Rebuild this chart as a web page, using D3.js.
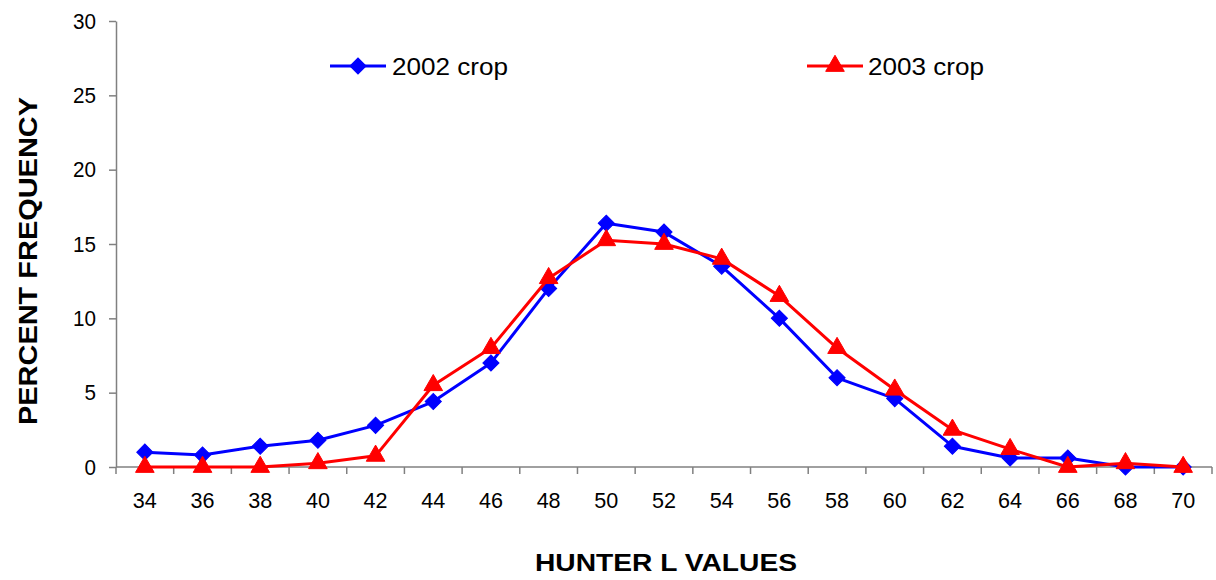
<!DOCTYPE html>
<html>
<head>
<meta charset="utf-8">
<script src="https://cdn.jsdelivr.net/npm/d3@7/dist/d3.min.js"></script>
<style>
  html, body { margin: 0; padding: 0; background: #fff; }
  svg { display: block; font-family: "Liberation Sans", Arial, sans-serif; }
</style>
</head>
<body>
<div id="chart"></div>
<script>
const categories = ["34","36","38","40","42","44","46","48","50","52","54","56","58","60","62","64","66","68","70"];
const crop2002 = [1.0, 0.8, 1.4, 1.8, 2.8, 4.4, 7.0, 12.0, 16.4, 15.8, 13.5, 10.0, 6.0, 4.6, 1.4, 0.6, 0.6, 0.0, 0.0];
const crop2003 = [0.0, 0.0, 0.0, 0.25, 0.75, 5.5, 8.0, 12.7, 15.25, 15.0, 14.0, 11.5, 8.0, 5.2, 2.5, 1.2, 0.0, 0.25, 0.0];
const yTicks = [0, 5, 10, 15, 20, 25, 30];
const seriesNames = ["2002 crop", "2003 crop"];

(function () {
const W = 1216, H = 580;
const mLeft = 116, mRight = 1212, mTop = 21, mBottom = 467;

const svg = d3.select("#chart").append("svg").attr("width", W).attr("height", H);

const x = d3.scaleBand().domain(categories).range([mLeft, mRight]).padding(0);
const y = d3.scaleLinear().domain([0, 30]).range([mBottom, mTop]);
const cx = c => x(c) + x.bandwidth() / 2;

const axisColor = "#808080";

// Y axis
const yAxis = svg.append("g").attr("transform", `translate(${mLeft},0)`)
  .call(d3.axisLeft(y).tickValues(yTicks).tickSize(7).tickPadding(13).tickSizeOuter(0));
yAxis.attr("font-size", null).attr("font-family", null);
yAxis.select(".domain").attr("stroke", axisColor).attr("stroke-width", 1.5);
yAxis.selectAll(".tick line").attr("stroke", axisColor).attr("stroke-width", 1.5);
yAxis.selectAll(".tick text").style("font-size", "22px").attr("fill", "#000")
  .attr("textLength", 23).attr("lengthAdjust", "spacingAndGlyphs")
  .filter(d => d < 10).attr("textLength", 11.5);

// X axis: ticks at band boundaries (Excel style), labels centered
const boundaries = categories.map(c => x(c)).concat([mRight]);
const xg = svg.append("g");
xg.append("line").attr("x1", mLeft).attr("x2", mRight).attr("y1", mBottom).attr("y2", mBottom)
  .attr("stroke", axisColor).attr("stroke-width", 1.5);
xg.selectAll("line.tk").data(boundaries).join("line").attr("class", "tk")
  .attr("x1", d => d).attr("x2", d => d).attr("y1", mBottom).attr("y2", mBottom + 7)
  .attr("stroke", axisColor).attr("stroke-width", 1.5);
xg.selectAll("text").data(categories).join("text")
  .attr("x", d => cx(d)).attr("y", 508).attr("text-anchor", "middle")
  .style("font-size", "22px").attr("fill", "#000")
  .attr("textLength", 24).attr("lengthAdjust", "spacingAndGlyphs").text(d => d);

// Axis titles
svg.append("text").attr("x", 666).attr("y", 571).attr("text-anchor", "middle")
  .style("font-size", "24px").attr("font-weight", "bold")
  .attr("textLength", 262).attr("lengthAdjust", "spacingAndGlyphs")
  .text("HUNTER L VALUES");
svg.append("text").attr("transform", "translate(37,261) rotate(-90)").attr("text-anchor", "middle")
  .style("font-size", "25px").attr("font-weight", "bold")
  .attr("textLength", 328).attr("lengthAdjust", "spacingAndGlyphs")
  .text("PERCENT FREQUENCY");

const diamond = d3.symbol().type(d3.symbolSquare).size(130);
const tri = d3.symbol().type(d3.symbolTriangle).size(150);

function drawSeries(vals, color, markerGen, rotate) {
  const line = d3.line().x((d, i) => cx(categories[i])).y(d => y(d));
  svg.append("path").datum(vals).attr("d", line).attr("fill", "none")
    .attr("stroke", color).attr("stroke-width", 3).attr("stroke-linejoin", "round");
  svg.append("g").selectAll("path").data(vals).join("path")
    .attr("d", markerGen)
    .attr("transform", (d, i) => `translate(${cx(categories[i])},${y(d)})${rotate ? " rotate(45)" : ""}`)
    .attr("fill", color).attr("stroke", color).attr("stroke-width", 1);
}

drawSeries(crop2002, "#0000FF", diamond, true);
drawSeries(crop2003, "#FF0000", tri, false);

// Legend
const legend = [
  { name: seriesNames[0], color: "#0000FF", x1: 330, x2: 386, mx: 358, tx: 392, gen: diamond, rot: true },
  { name: seriesNames[1], color: "#FF0000", x1: 807, x2: 863, mx: 835, tx: 868, gen: tri, rot: false }
];
const lg = svg.append("g");
legend.forEach(l => {
  lg.append("line").attr("x1", l.x1).attr("x2", l.x2).attr("y1", 66).attr("y2", 66)
    .attr("stroke", l.color).attr("stroke-width", 3);
  lg.append("path").attr("d", l.gen)
    .attr("transform", `translate(${l.mx},66)${l.rot ? " rotate(45)" : ""}`)
    .attr("fill", l.color).attr("stroke", l.color).attr("stroke-width", 1);
  lg.append("text").attr("x", l.tx).attr("y", 75).style("font-size", "23px").attr("fill", "#000")
    .attr("textLength", 116).attr("lengthAdjust", "spacingAndGlyphs").text(l.name);
});
})();
</script>
</body>
</html>
